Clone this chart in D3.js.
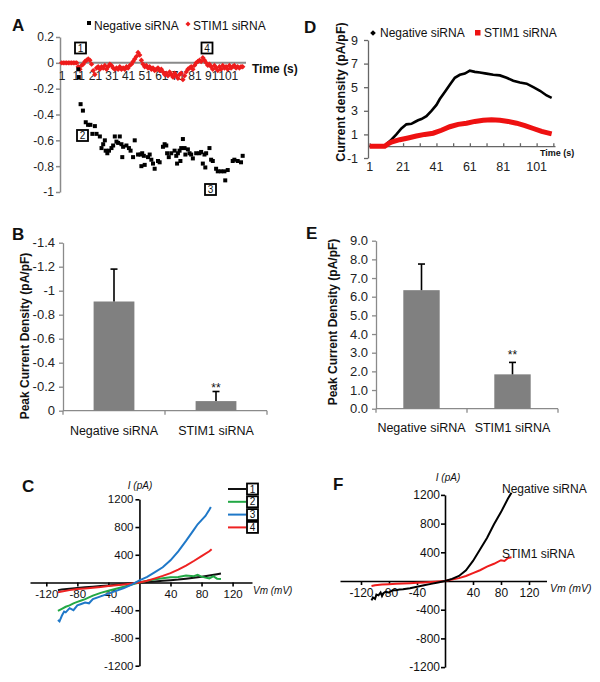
<!DOCTYPE html>
<html><head><meta charset="utf-8">
<script src="https://cdn.jsdelivr.net/npm/d3@7"></script>
<style>body{margin:0;background:#fff;}</style>
</head><body>
<script>
// ---------------- DATA ----------------
// Panel A (scatter, current density vs time)
const aYTicks = [0.2, 0, -0.2, -0.4, -0.6, -0.8, -1];
const aXTicks = [1, 11, 21, 31, 41, 51, 61, 71, 81, 91, 101];
const aNegT = [11,11.3,12.4,13.8,15.5,16.9,18.3,19.5,21,22,24,25,26,27,27.5,28.5,29.5,31,32,33,34,35,36,37,37.5,38,40,41.5,42.5,44,45,47,48.5,49,49.5,50.5,51,53,54,55,56,57,59,60,62,63,64,64.5,65.5,67,69,70,70.5,71,72,72.5,73,74,75,75.5,77,78,79,80,82,84,85,86,87,87.5,88,90,91,92,94,95,97,99,99.5,101,104,105,107,109,110];
const aNegV = [-0.05,-0.11,-0.32,-0.37,-0.46,-0.48,-0.48,-0.55,-0.49,-0.55,-0.57,-0.66,-0.63,-0.60,-0.68,-0.70,-0.68,-0.66,-0.64,-0.57,-0.61,-0.62,-0.57,-0.63,-0.73,-0.65,-0.64,-0.66,-0.68,-0.73,-0.60,-0.71,-0.71,-0.80,-0.70,-0.72,-0.79,-0.73,-0.71,-0.75,-0.78,-0.82,-0.76,-0.77,-0.65,-0.63,-0.64,-0.70,-0.73,-0.70,-0.68,-0.72,-0.78,-0.70,-0.68,-0.76,-0.66,-0.59,-0.66,-0.71,-0.67,-0.70,-0.71,-0.74,-0.70,-0.70,-0.69,-0.78,-0.71,-0.81,-0.70,-0.66,-0.75,-0.76,-0.82,-0.84,-0.84,-0.84,-0.91,-0.83,-0.76,-0.75,-0.76,-0.77,-0.72];
const aStimT = [1,2,3,4,5,6,7,8,9,10,11,12,13,14,15,16,17,18,19,20,21,22,23,24,25,26,27,28,29,30,31,32,33,34,35,36,37,38,39,40,41,42,43,44,45,46,47,48,49,50,51,52,53,54,55,56,57,58,59,60,61,62,63,64,65,66,67,68,69,70,71,72,73,74,75,76,77,78,79,80,81,82,83,84,85,86,87,88,89,90,91,92,93,94,95,96,97,98,99,100,101,102,103,104,105,106,107,108,109,110];
const aStimV = [0,0,0,0,0,0,0,0,0,0,-0.03,-0.05,-0.02,-0.01,0.01,0.02,0.03,0.02,-0.01,-0.06,-0.09,-0.04,-0.03,-0.05,-0.03,-0.04,-0.02,-0.05,-0.03,-0.01,-0.02,-0.04,-0.05,-0.04,-0.05,-0.03,-0.05,-0.04,-0.05,-0.03,-0.04,-0.02,-0.01,0.01,0.03,0.05,0.08,0.06,0.02,-0.01,-0.03,-0.02,-0.04,-0.03,-0.05,-0.04,-0.06,-0.05,-0.04,-0.06,-0.05,-0.07,-0.09,-0.08,-0.10,-0.07,-0.09,-0.11,-0.08,-0.10,-0.12,-0.09,-0.08,-0.13,-0.10,-0.07,-0.05,-0.04,-0.03,-0.05,-0.02,0.00,0.01,0.02,0.01,0.04,0.02,0.00,-0.02,-0.01,-0.03,-0.05,-0.02,-0.04,-0.06,-0.03,-0.05,-0.02,-0.04,-0.03,-0.05,-0.02,-0.04,-0.03,-0.02,-0.04,-0.03,-0.04,-0.03,-0.03];

// Panel D (lines, current density vs time)
const dYTicks = [-1, 1, 3, 5, 7, 9];
const dXTicks = [1, 21, 41, 61, 81, 101];
const dNegT = [1,5,10,12,14,17,20,23,26,28,30,32,35,38,41,43,46,49,52,55,58,61,64,67,71,75,79,83,87,91,95,99,103,107,110];
const dNegV = [0,0,0,0.3,0.55,1.0,1.5,1.85,1.9,2.05,2.2,2.3,2.55,3.0,3.5,4.0,4.6,5.2,5.8,6.05,6.15,6.4,6.3,6.25,6.15,6.05,6.0,5.8,5.55,5.4,5.3,5.0,4.7,4.3,4.1];
const dStimT = [1,10,12,14,19,24,29,34,39,44,49,54,59,64,69,74,79,84,89,94,99,104,110];
const dStimV = [0,0,0.2,0.35,0.55,0.7,0.86,1.0,1.1,1.35,1.65,1.85,1.95,2.1,2.2,2.25,2.2,2.1,1.95,1.75,1.5,1.25,1.05];

// Panel B / E (bars)
const barCats = ["Negative siRNA", "STIM1 siRNA"];
const bValues = [-0.91, -0.08];
const bErrors = [-0.27, -0.08];
const bTicks = [0, -0.2, -0.4, -0.6, -0.8, -1, -1.2, -1.4];
const eValues = [6.35, 1.84];
const eErrors = [1.40, 0.64];
const eTicks = [0,1,2,3,4,5,6,7,8,9];
const sigMarks = ["", "**"];

// Panel C (I-V curves at time points 1-4)
const cXTicks = [-120, -80, -40, 40, 80, 120];
const cYTicks = [-1200, -800, -400, 400, 800, 1200];
const c1V = [-105,-100,-90,-80,-70,-60,-50,-40,-30,-20,-10,0,10,20,30,40,50,60,70,80,90,100,105];
const c1I = [-110,-100,-90,-80,-70,-60,-50,-42,-32,-22,-12,0,8,16,24,33,42,55,68,82,100,120,130];
const c2V = [-105,-100,-95,-90,-85,-80,-75,-70,-60,-50,-40,-30,-20,-10,0,10,20,30,40,50,60,70,75,80,85,90,95,100,105];
const c2I = [-410,-380,-350,-330,-300,-280,-260,-240,-190,-150,-120,-90,-60,-30,0,25,45,60,75,80,100,90,110,85,70,60,90,55,50];
const c3V = [-105,-103,-100,-97,-95,-90,-85,-80,-75,-70,-65,-60,-50,-40,-30,-20,-10,0,10,20,30,40,50,60,70,75,80,85,90,92];
const c3I = [-540,-560,-480,-420,-430,-370,-400,-330,-310,-290,-300,-240,-200,-160,-120,-80,-30,30,80,150,220,320,450,600,760,840,900,960,1050,1090];
const c4V = [-105,-100,-90,-80,-70,-60,-50,-40,-30,-20,-10,0,10,20,30,40,50,60,70,80,90,93];
const c4I = [-140,-130,-110,-95,-85,-75,-65,-52,-40,-28,-14,0,25,60,95,135,185,245,310,380,450,480];
const cLabels = ["1","2","3","4"];
const cColors = ["#111111","#22a845","#1f78c8","#ee2222"];

// Panel F (I-V curves)
const fNegV = [-105,-103,-100,-98,-95,-92,-90,-88,-85,-80,-75,-70,-65,-60,-50,-40,-30,-20,-10,0,10,20,30,40,50,60,70,80,90,95];
const fNegI = [-270,-230,-250,-190,-200,-160,-210,-170,-150,-160,-130,-130,-120,-115,-100,-80,-60,-40,-20,0,30,70,150,280,440,600,790,960,1150,1230];
const fStimV = [-105,-100,-90,-80,-70,-60,-50,-40,-30,-20,-10,0,10,20,30,40,50,60,70,80,85,90,95];
const fStimI = [-70,-60,-50,-45,-40,-35,-30,-25,-20,-15,-8,0,20,40,70,110,150,200,240,290,280,320,330];

// ---------------- DRAW ----------------
const FONT = '"Liberation Sans", Arial, Helvetica, sans-serif';
const svg = d3.select("body").append("svg").attr("width",600).attr("height",682)
  .style("background","#fff").attr("font-family",FONT);

function txt(x,y,s,opt={}){
  const t = svg.append("text").attr("x",x).attr("y",y).text(s)
    .attr("font-size",opt.size||12).attr("fill",opt.fill||"#111")
    .attr("text-anchor",opt.anchor||"start");
  if(opt.bold) t.attr("font-weight","bold");
  if(opt.italic) t.attr("font-style","italic");
  if(opt.rotate) t.attr("transform",`rotate(-90,${x},${y})`);
  return t;
}
function styleAxis(g,color,width,font,fill){
  g.attr("font-family",FONT).attr("font-size",font);
  g.select(".domain").attr("stroke",color).attr("stroke-width",width);
  g.selectAll(".tick line").attr("stroke",color).attr("stroke-width",width);
  g.selectAll(".tick text").attr("fill",fill||"#111");
}
function boxNum(cx,cy,s){
  svg.append("rect").attr("x",cx-5.5).attr("y",cy-5.5).attr("width",11).attr("height",11)
    .attr("fill","#fff").attr("stroke","#000").attr("stroke-width",1.8);
  txt(cx,cy+3.6,s,{size:10,anchor:"middle"});
}
const fmtSigned = d => String(+d.toFixed(1));
const fmtPlain = d => String(d);

// ===== Panel A =====
txt(12,31,"A",{size:17,bold:true});
const xA = d3.scaleLinear().domain([0,112]).range([60,246]);
const yA = d3.scaleLinear().domain([-1,0.2]).range([192,37]);
const gAy = svg.append("g").attr("transform",`translate(${xA(0)},0)`)
  .call(d3.axisLeft(yA).tickValues(aYTicks).tickFormat(fmtSigned).tickSize(4).tickPadding(2).tickSizeOuter(0));
styleAxis(gAy,"#8a8a8a",1.5,12,"#222");
svg.append("line").attr("x1",xA(0)).attr("x2",xA(112)).attr("y1",yA(0)).attr("y2",yA(0))
  .attr("stroke","#8a8a8a").attr("stroke-width",2);
const gAx = svg.append("g").attr("transform",`translate(0,${yA(0)})`)
  .call(d3.axisBottom(xA).tickValues(aXTicks).tickFormat(fmtPlain).tickSize(0).tickPadding(9));
gAx.select(".domain").remove();
styleAxis(gAx,"#8a8a8a",1,12,"#222");
txt(252,73,"Time (s)",{size:12,bold:true});
// legend
svg.append("rect").attr("x",87).attr("y",21).attr("width",4).attr("height",4).attr("fill","#000");
txt(94,30,"Negative siRNA",{size:12});
svg.append("rect").attr("x",-1.8).attr("y",-1.8).attr("width",3.6).attr("height",3.6)
  .attr("transform","translate(188,24) rotate(45)").attr("fill","#ee1c1c");
txt(193,30,"STIM1 siRNA",{size:12});
// points
svg.append("g").selectAll("rect").data(aStimT.map((t,i)=>[t,aStimV[i]])).join("rect")
  .attr("x",-1.9).attr("y",-1.9).attr("width",3.8).attr("height",3.8)
  .attr("transform",d=>`translate(${xA(d[0])},${yA(d[1])}) rotate(45)`).attr("fill","#ee1c1c");
svg.append("g").selectAll("rect").data(aNegT.map((t,i)=>[t,aNegV[i]])).join("rect")
  .attr("x",d=>xA(d[0])-2).attr("y",d=>yA(d[1])-2).attr("width",4).attr("height",4).attr("fill","#000");
boxNum(80.5,48,"1"); boxNum(207,48,"4"); boxNum(82.5,135.5,"2"); boxNum(210.5,189.5,"3");

// ===== Panel D =====
txt(304,33,"D",{size:17,bold:true});
const xD = d3.scaleLinear().domain([0,112]).range([368,555]);
const yD = d3.scaleLinear().domain([-1,9]).range([158,40]);
const gDy = svg.append("g").attr("transform",`translate(${xD(0)},0)`)
  .call(d3.axisLeft(yD).tickValues(dYTicks).tickFormat(fmtPlain).tickSize(4).tickPadding(6).tickSizeOuter(0));
styleAxis(gDy,"#666",1.3,12.5,"#222");
const gDx = svg.append("g").attr("transform",`translate(0,${yD(0)})`)
  .call(d3.axisBottom(xD).tickValues(d3.range(1,113,10)).tickSize(-3).tickFormat("").tickSizeOuter(0));
styleAxis(gDx,"#666",1.3,12,"#222");
svg.append("g").selectAll("text").data(dXTicks).join("text")
  .attr("x",d=>xD(d)).attr("y",171).attr("text-anchor","middle").attr("font-size",12.5).attr("fill","#222").text(d=>d);
txt(540,156,"Time (s)",{size:9,bold:true});
txt(345,92,"Current density (pA/pF)",{size:12.5,bold:true,anchor:"middle",rotate:true});
const lineD = d3.line().x(d=>xD(d[0])).y(d=>yD(d[1]));
svg.append("path").datum(dNegT.map((t,i)=>[t,dNegV[i]])).attr("d",lineD)
  .attr("fill","none").attr("stroke","#000").attr("stroke-width",2.6);
svg.append("path").datum(dStimT.map((t,i)=>[t,dStimV[i]])).attr("d",lineD)
  .attr("fill","none").attr("stroke","#ee1111").attr("stroke-width",5);
svg.append("rect").attr("x",-2).attr("y",-2).attr("width",4).attr("height",4)
  .attr("transform","translate(373,33) rotate(45)").attr("fill","#000");
txt(380,37,"Negative siRNA",{size:12});
svg.append("rect").attr("x",475).attr("y",30).attr("width",5.5).attr("height",5.5).attr("fill","#ee1111");
txt(484,37,"STIM1 siRNA",{size:12});

// ===== Bar panels =====
function barPanel(o){
  const x = d3.scaleBand().domain(barCats).range(o.xr).paddingInner(0.6).paddingOuter(0.3);
  const y = d3.scaleLinear().domain(o.dom).range(o.yr);
  const gy = svg.append("g").attr("transform",`translate(${o.xr[0]},0)`)
    .call(d3.axisLeft(y).tickValues(o.ticks).tickFormat(o.fmt).tickSize(4).tickPadding(4).tickSizeOuter(0));
  styleAxis(gy,"#8a8a8a",1.3,13,"#222");
  const base = y(0);
  svg.append("line").attr("x1",o.xr[0]).attr("x2",o.xr[1]).attr("y1",base).attr("y2",base)
    .attr("stroke","#8a8a8a").attr("stroke-width",1.3);
  const bounds = [o.xr[0], (x(barCats[0])+x.bandwidth()+x(barCats[1]))/2, o.xr[1]];
  svg.append("g").selectAll("line").data(bounds).join("line")
    .attr("x1",d=>d).attr("x2",d=>d).attr("y1",base).attr("y2",base+4)
    .attr("stroke","#8a8a8a").attr("stroke-width",1.3);
  svg.append("g").selectAll("rect").data(barCats).join("rect")
    .attr("x",d=>x(d)).attr("width",x.bandwidth())
    .attr("y",(d,i)=>Math.min(y(o.vals[i]),base)).attr("height",(d,i)=>Math.abs(base-y(o.vals[i])))
    .attr("fill","#808080");
  const eg = svg.append("g");
  barCats.forEach((c,i)=>{
    const cx = x(c)+x.bandwidth()/2;
    const top = y(o.vals[i]+o.errs[i]);
    eg.append("line").attr("x1",cx).attr("x2",cx).attr("y1",y(o.vals[i])).attr("y2",top).attr("stroke","#000").attr("stroke-width",1.6);
    eg.append("line").attr("x1",cx-3.5).attr("x2",cx+3.5).attr("y1",top).attr("y2",top).attr("stroke","#000").attr("stroke-width",1.6);
    if(sigMarks[i]) txt(cx,top-o.sigOff,sigMarks[i],{size:12,anchor:"middle"});
    txt(cx,o.labelY,c,{size:12.5,anchor:"middle"});
  });
  txt(o.ylabX,o.ylabY,"Peak Current Density (pA/pF)",{size:12,bold:true,anchor:"middle",rotate:true});
}
txt(12,240,"B",{size:17,bold:true});
barPanel({xr:[63,267],yr:[410.7,242.7],dom:[0,-1.4],ticks:bTicks,fmt:fmtSigned,vals:bValues,errs:bErrors,labelY:435,ylabX:29,ylabY:336,sigOff:0});
txt(306,239,"E",{size:17,bold:true});
barPanel({xr:[376,558],yr:[408.7,240.7],dom:[0,9],ticks:eTicks,fmt:d3.format(".1f"),vals:eValues,errs:eErrors,labelY:432,ylabX:337,ylabY:322,sigOff:3});

// ===== I-V panels =====
function ivAxes(x,y,xt,yt,font,ypad){
  const gx = svg.append("g").attr("transform",`translate(0,${y(0)})`)
    .call(d3.axisBottom(x).tickValues(xt).tickFormat(fmtPlain).tickSize(4).tickPadding(3).tickSizeOuter(0));
  styleAxis(gx,"#000",1.6,font,"#111");
  const gy = svg.append("g").attr("transform",`translate(${x(0)},0)`)
    .call(d3.axisLeft(y).tickValues(yt).tickFormat(fmtPlain).tickSize(4).tickPadding(ypad).tickSizeOuter(0));
  styleAxis(gy,"#000",1.6,font,"#111");
}
// Panel C
txt(22,492,"C",{size:17,bold:true});
const xC = d3.scaleLinear().domain([-141,145]).range([30,252]);
const yC = d3.scaleLinear().domain([-1200,1200]).range([665.7,499.3]);
ivAxes(xC,yC,cXTicks,cYTicks,11.5,2);
txt(140,489,"I (pA)",{size:10,italic:true,anchor:"middle"});
txt(253,594,"Vm (mV)",{size:10,italic:true});
const lineC = d3.line().x(d=>xC(d[0])).y(d=>yC(d[1]));
const cSeries = [[c1V,c1I],[c2V,c2I],[c3V,c3I],[c4V,c4I]];
[0,1,3,2].forEach(k=>{
  svg.append("path").datum(cSeries[k][0].map((v,i)=>[v,cSeries[k][1][i]])).attr("d",lineC)
    .attr("fill","none").attr("stroke",cColors[k]).attr("stroke-width",2);
});
cLabels.forEach((s,i)=>{
  const yy = 489 + i*12.8;
  svg.append("line").attr("x1",228).attr("x2",246).attr("y1",yy).attr("y2",yy).attr("stroke",cColors[i]).attr("stroke-width",2);
  boxNum(252.5,yy,s);
});

// Panel F
txt(333,490,"F",{size:17,bold:true});
const xF = d3.scaleLinear().domain([-150,145]).range([340,546.5]);
const yF = d3.scaleLinear().domain([-1200,1200]).range([667.1,494.9]);
ivAxes(xF,yF,cXTicks,cYTicks,12,1);
txt(448,481,"I (pA)",{size:10,italic:true,anchor:"middle"});
txt(550,592,"Vm (mV)",{size:10.5,italic:true});
const lineF = d3.line().x(d=>xF(d[0])).y(d=>yF(d[1]));
svg.append("path").datum(fStimV.map((v,i)=>[v,fStimI[i]])).attr("d",lineF)
  .attr("fill","none").attr("stroke","#ee1c1c").attr("stroke-width",2);
svg.append("path").datum(fNegV.map((v,i)=>[v,fNegI[i]])).attr("d",lineF)
  .attr("fill","none").attr("stroke","#000").attr("stroke-width",2);
txt(502,493,"Negative siRNA",{size:12});
txt(502,558,"STIM1 siRNA",{size:12});
</script>
</body></html>
